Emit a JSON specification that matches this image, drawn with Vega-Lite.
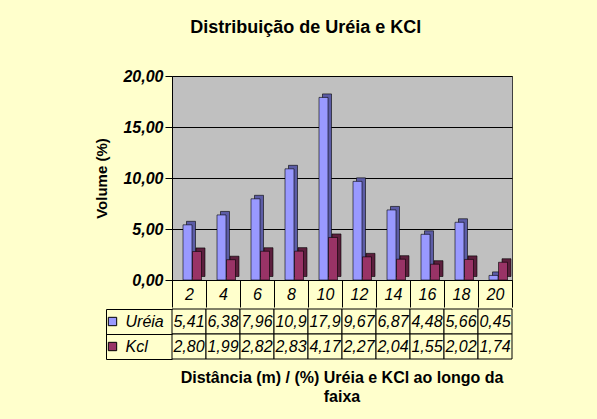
{
  "$schema": "https://vega.github.io/schema/vega-lite/v6.json",
  "background": "#FFFFCC",
  "padding": {"left": 94, "top": 18, "right": 85, "bottom": 17},
  "config": {
    "locale": {"number": {"decimal": ",", "thousands": ".", "grouping": [3], "currency": ["R$", ""]}},
    "font": "Liberation Sans"
  },
  "title": {"text": "Distribuição de Uréia e KCl", "fontSize": 18, "font": "Liberation Sans", "fontWeight": "bold", "color": "black", "anchor": "middle", "offset": 31, "dx": 2},
  "datasets": {
    "dados": [
      {"dist": 2, "serie": "Uréia", "volume": 5.41, "rotulo": "5,41"},
      {"dist": 4, "serie": "Uréia", "volume": 6.38, "rotulo": "6,38"},
      {"dist": 6, "serie": "Uréia", "volume": 7.96, "rotulo": "7,96"},
      {"dist": 8, "serie": "Uréia", "volume": 10.9, "rotulo": "10,9"},
      {"dist": 10, "serie": "Uréia", "volume": 17.9, "rotulo": "17,9"},
      {"dist": 12, "serie": "Uréia", "volume": 9.67, "rotulo": "9,67"},
      {"dist": 14, "serie": "Uréia", "volume": 6.87, "rotulo": "6,87"},
      {"dist": 16, "serie": "Uréia", "volume": 4.48, "rotulo": "4,48"},
      {"dist": 18, "serie": "Uréia", "volume": 5.66, "rotulo": "5,66"},
      {"dist": 20, "serie": "Uréia", "volume": 0.45, "rotulo": "0,45"},
      {"dist": 2, "serie": "Kcl", "volume": 2.80, "rotulo": "2,80"},
      {"dist": 4, "serie": "Kcl", "volume": 1.99, "rotulo": "1,99"},
      {"dist": 6, "serie": "Kcl", "volume": 2.82, "rotulo": "2,82"},
      {"dist": 8, "serie": "Kcl", "volume": 2.83, "rotulo": "2,83"},
      {"dist": 10, "serie": "Kcl", "volume": 4.17, "rotulo": "4,17"},
      {"dist": 12, "serie": "Kcl", "volume": 2.27, "rotulo": "2,27"},
      {"dist": 14, "serie": "Kcl", "volume": 2.04, "rotulo": "2,04"},
      {"dist": 16, "serie": "Kcl", "volume": 1.55, "rotulo": "1,55"},
      {"dist": 18, "serie": "Kcl", "volume": 2.02, "rotulo": "2,02"},
      {"dist": 20, "serie": "Kcl", "volume": 1.74, "rotulo": "1,74"}
    ]
  },
  "spacing": 0,
  "resolve": {"scale": {"color": "independent"}, "legend": {"color": "independent"}},
  "vconcat": [
    {
      "width": 340,
      "height": 204,
      "view": {"fill": "#C0C0C0", "stroke": "#404040"},
      "data": {"name": "dados"},
      "encoding": {
        "x": {
          "field": "dist", "type": "ordinal",
          "scale": {"paddingInner": 0, "paddingOuter": 0},
          "axis": {"title": null, "labelAngle": 0, "tickBand": "extent", "tickSize": 27, "tickColor": "black", "domainColor": "black", "labelPadding": -21, "labelFontSize": 16, "labelFontStyle": "italic", "labelColor": "black", "labelFont": "Liberation Sans"}
        },
        "y": {
          "field": "volume", "type": "quantitative",
          "scale": {"domain": [0, 20]},
          "axis": {"title": "Volume (%)", "titleFontSize": 15, "titleFontWeight": "bold", "titleColor": "black", "titlePadding": 13, "titleFont": "Liberation Sans",
                   "values": [0, 5, 10, 15, 20], "format": ".2f", "labelFontSize": 16, "labelFontWeight": "bold", "labelFontStyle": "italic", "labelColor": "black", "labelFont": "Liberation Sans", "labelPadding": 2,
                   "tickSize": 7, "tickColor": "black", "domainColor": "black", "gridColor": "black", "gridOpacity": 1, "gridWidth": 1}
        }
      },
      "layer": [
        {"transform": [{"filter": "datum.serie === 'Uréia'"}], "mark": {"type": "bar", "width": 9, "xOffset": 2, "yOffset": -3.5, "fill": "#5C5CA6", "stroke": "black", "strokeWidth": 0.6}},
        {"transform": [{"filter": "datum.serie === 'Uréia'"}], "mark": {"type": "bar", "width": 9, "xOffset": -1.5, "fill": "#9999FF", "stroke": "black", "strokeWidth": 0.6}},
        {"transform": [{"filter": "datum.serie === 'Kcl'"}], "mark": {"type": "bar", "width": 9, "xOffset": 11.5, "yOffset": -3.5, "fill": "#5C1F3D", "stroke": "black", "strokeWidth": 0.6}},
        {"transform": [{"filter": "datum.serie === 'Kcl'"}], "mark": {"type": "bar", "width": 9, "xOffset": 8, "fill": "#993366", "stroke": "black", "strokeWidth": 0.6}}
      ]
    },
    {
      "width": 340,
      "height": 50,
      "view": {"stroke": null},
      "data": {"name": "dados"},
      "title": {"text": ["Distância (m) / (%) Uréia e KCl ao longo da", "faixa"], "orient": "bottom", "anchor": "middle", "fontSize": 16, "fontWeight": "bold", "color": "black", "font": "Liberation Sans", "offset": 10, "lineHeight": 19},
      "encoding": {
        "x": {"field": "dist", "type": "ordinal", "scale": {"paddingInner": 0, "paddingOuter": 0}, "axis": null},
        "y": {"field": "serie", "type": "nominal", "scale": {"domain": ["Uréia", "Kcl"], "paddingInner": 0, "paddingOuter": 0},
              "axis": {"title": null, "labels": false, "offset": 66, "tickSize": -66, "tickBand": "extent", "tickColor": "black", "domainColor": "black"}}
      },
      "layer": [
        {"mark": {"type": "rect", "fill": "#FFFFCC", "stroke": "black", "strokeWidth": 1}},
        {"mark": {"type": "text", "fontSize": 16, "fontStyle": "italic", "color": "black", "font": "Liberation Sans"}, "encoding": {"text": {"field": "rotulo"}}},
        {"mark": {"type": "square", "opacity": 0},
         "encoding": {"color": {"field": "serie", "type": "nominal", "scale": {"domain": ["Uréia", "Kcl"], "range": ["#9999FF", "#993366"]},
           "legend": {"title": null, "orient": "left", "offset": -64, "padding": 4.5, "rowPadding": 9, "symbolType": "square", "symbolSize": 70, "symbolStrokeColor": "black", "symbolStrokeWidth": 1, "symbolOpacity": 1, "labelFontSize": 16, "labelFontStyle": "italic", "labelColor": "black", "labelFont": "Liberation Sans", "labelOffset": 5}}}}
      ]
    }
  ]
}
